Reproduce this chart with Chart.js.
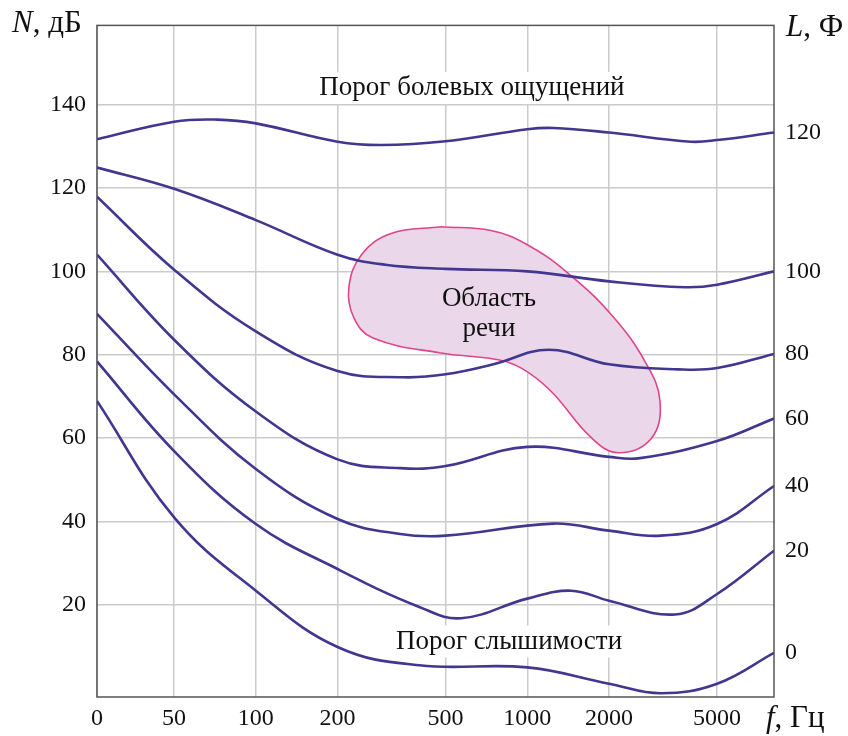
<!DOCTYPE html>
<html>
<head>
<meta charset="utf-8">
<script src="https://cdn.jsdelivr.net/npm/chart.js@4.4.1/dist/chart.umd.min.js"></script>
<style>
  html, body { margin: 0; padding: 0; background: #fff; }
</style>
</head>
<body>
<canvas id="chart" width="848" height="736"></canvas>
<script>
// frequency axis (Hz, log) and level axis (dB)
const xMin = 26;
const xMax = 8100;
const xTickValues = [26, 50, 100, 200, 500, 1000, 2000, 5000];
const xTickLabels = ['0', '50', '100', '200', '500', '1000', '2000', '5000'];
const yMin = -2.1;
const yMax = 159;
const yTickValues = [20, 40, 60, 80, 100, 120, 140];
const phonLabels = [120, 100, 80, 60, 40, 20, 0];

// equal loudness curves
const pain120Hz = [26, 50, 72, 100, 200, 290, 500, 1000, 1250, 2000, 4000, 5000, 8100];
const pain120Db = [131.7, 135.9, 136.4, 135.5, 131.1, 130.3, 131.2, 134.1, 134.4, 133.3, 131.1, 131.5, 133.3];

const phon100Hz = [26, 50, 100, 200, 300, 500, 1000, 2000, 3800, 5000, 8100];
const phon100Db = [124.9, 119.8, 112.3, 104.0, 101.6, 100.6, 100.0, 97.6, 96.2, 96.8, 100.0];

const phon80Hz = [26, 50, 100, 200, 350, 500, 750, 1200, 2000, 3600, 5000, 8100];
const phon80Db = [117.9, 100.4, 85.6, 76.1, 74.6, 75.3, 77.7, 81.2, 77.7, 76.5, 76.8, 80.2];

const phon60Hz = [26, 50, 100, 200, 340, 500, 1000, 2000, 2600, 5000, 8100];
const phon60Db = [104.0, 83.6, 66.4, 54.9, 52.8, 53.3, 57.9, 55.5, 55.2, 59.3, 64.7];

const phon40Hz = [26, 50, 100, 200, 340, 500, 1250, 2000, 3100, 5000, 8100];
const phon40Db = [89.8, 70.5, 52.6, 40.6, 37.0, 36.6, 39.5, 37.8, 36.6, 39.4, 48.5];

const phon20Hz = [26, 50, 100, 200, 400, 570, 1000, 1450, 2000, 3500, 5000, 8100];
const phon20Db = [78.4, 56.9, 39.4, 28.6, 19.5, 16.8, 21.5, 23.4, 21.0, 17.7, 22.6, 33.0];

const hearingHz = [26, 50, 100, 200, 400, 1000, 2000, 3100, 5000, 8100];
const hearingDb = [68.9, 41.0, 23.4, 9.9, 5.5, 5.0, 1.1, -1.2, 1.1, 8.5];

// speech region outline
const speechHz = [480, 735, 1000, 1410, 2040, 2710, 3080, 2860, 2160, 1720, 1220, 950, 760, 480, 270, 230, 220, 245, 315, 480];
const speechDb = [110.7, 109.8, 106.4, 99.6, 89.6, 78.4, 68.9, 59.9, 56.5, 60.1, 71.3, 76.8, 78.9, 80.4, 84.0, 88.8, 96.0, 104.0, 109.1, 110.7];

const curves = [
    [pain120Hz, pain120Db],
    [phon100Hz, phon100Db],
    [phon80Hz, phon80Db],
    [phon60Hz, phon60Db],
    [phon40Hz, phon40Db],
    [phon20Hz, phon20Db],
    [hearingHz, hearingDb]
];

const serif = 'Liberation Serif';
const lineColor = '#403790';
const gridColor = '#cbcbcb';

function toPoints(hz, db) {
    return hz.map((f, i) => ({ x: f, y: db[i] }));
}

const datasets = curves.map(c => ({
    data: toPoints(c[0], c[1]),
    borderColor: lineColor,
    borderWidth: 2.6,
    pointRadius: 0,
    tension: 0.4,
    fill: false
}));

datasets.push({
    data: toPoints(speechHz, speechDb),
    borderColor: '#e0448a',
    backgroundColor: '#ead7ea',
    borderWidth: 1.6,
    pointRadius: 0,
    tension: 0.4,
    fill: 'shape'
});

const notes = {
    id: 'notes',
    beforeDatasetsDraw(chart) {
        const { ctx, chartArea, scales } = chart;
        ctx.save();
        ctx.font = '27px ' + serif;
        ctx.textAlign = 'center';
        ctx.textBaseline = 'middle';
        [['Порог болевых ощущений', 625, 144], ['Порог слышимости', 856, 11.2]].forEach(n => {
            const px = scales.x.getPixelForValue(n[1]);
            const py = scales.y.getPixelForValue(n[2]);
            const w = ctx.measureText(n[0]).width;
            ctx.fillStyle = '#fff';
            ctx.fillRect(px - w / 2 - 3, py - 16, w + 6, 32);
            ctx.fillStyle = '#111';
            ctx.fillText(n[0], px, py);
        });
        // frame
        ctx.strokeStyle = '#555';
        ctx.lineWidth = 1.5;
        ctx.strokeRect(chartArea.left, chartArea.top, chartArea.right - chartArea.left, chartArea.bottom - chartArea.top);
        ctx.restore();
    },
    afterDatasetsDraw(chart) {
        const { ctx, scales } = chart;
        ctx.save();
        ctx.font = '27px ' + serif;
        ctx.textAlign = 'center';
        ctx.textBaseline = 'middle';
        ctx.fillStyle = '#111';
        const px = scales.x.getPixelForValue(722);
        ctx.fillText('Область', px, scales.y.getPixelForValue(93.3));
        ctx.fillText('речи', px, scales.y.getPixelForValue(86.1));

        // axis titles
        const title = (it, rest, x, y) => {
            ctx.textAlign = 'left';
            ctx.font = 'italic 31px ' + serif;
            ctx.fillText(it, x, y);
            const w = ctx.measureText(it).width;
            ctx.font = '31px ' + serif;
            ctx.fillText(rest, x + w, y);
        };
        title('N', ', дБ', 12, 24);
        title('L', ', Ф', 786, 28);
        title('f', ', Гц', 766, 719);
        ctx.restore();
    }
};

new Chart(document.getElementById('chart'), {
    type: 'line',
    data: { datasets },
    options: {
        responsive: false,
        animation: false,
        layout: { padding: { top: 23 } },
        plugins: { legend: { display: false }, tooltip: { enabled: false } },
        scales: {
            x: {
                type: 'logarithmic',
                min: xMin,
                max: xMax,
                afterBuildTicks: s => { s.ticks = xTickValues.map(v => ({ value: v })); },
                afterFit: s => { s.height = 39; },
                ticks: {
                    callback: (v, i) => xTickLabels[i],
                    autoSkip: false,
                    maxRotation: 0,
                    padding: 7,
                    color: '#111',
                    font: { family: serif, size: 24 }
                },
                grid: { color: gridColor, lineWidth: 1.5, drawTicks: false },
                border: { display: false }
            },
            y: {
                position: 'left',
                min: yMin,
                max: yMax,
                afterBuildTicks: s => { s.ticks = yTickValues.map(v => ({ value: v })); },
                afterFit: s => { s.width = 97; },
                ticks: {
                    callback: v => v,
                    padding: 11,
                    color: '#111',
                    font: { family: serif, size: 24 }
                },
                grid: { color: gridColor, lineWidth: 1.5, drawTicks: false },
                border: { display: false }
            },
            yR: {
                position: 'right',
                min: yMin,
                max: yMax,
                afterBuildTicks: s => { s.ticks = curves.map(c => ({ value: c[1][c[1].length - 1] })); },
                afterFit: s => { s.width = 74; },
                ticks: {
                    callback: (v, i) => phonLabels[i],
                    autoSkip: false,
                    padding: 11,
                    color: '#111',
                    font: { family: serif, size: 24 }
                },
                grid: { display: false, drawTicks: false },
                border: { display: false }
            }
        }
    },
    plugins: [notes]
});
</script>
</body>
</html>
